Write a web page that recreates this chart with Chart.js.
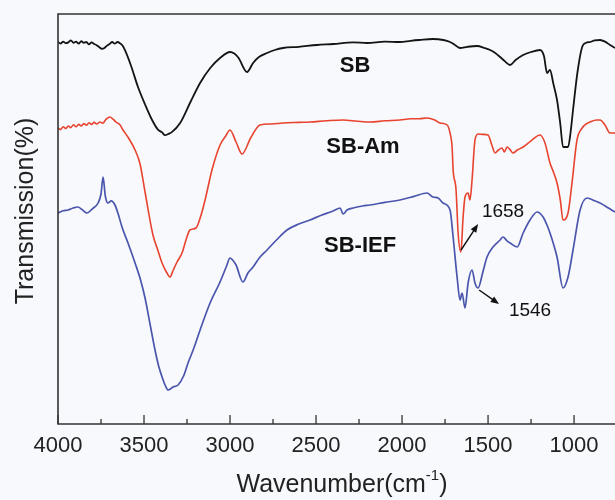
<!DOCTYPE html>
<html>
<head>
<meta charset="utf-8">
<script src="https://cdn.jsdelivr.net/npm/chart.js@4.4.0/dist/chart.umd.min.js"></script>
<style>
  html, body { margin: 0; padding: 0; background: #f8f9fc; }
  #wrap { width: 615px; height: 500px; }
</style>
</head>
<body>
<div id="wrap"><canvas id="chart" width="615" height="500"></canvas></div>
<script>
// wavenumber (cm-1) and transmission (arbitrary, offset spectra)
const sbWn = [4000, 3985, 3970, 3955, 3940, 3925, 3910, 3895, 3880, 3865, 3850, 3835, 3820, 3805, 3790, 3775, 3760, 3745, 3730, 3715,
  3700, 3685, 3670, 3655, 3640, 3625, 3610, 3575, 3535, 3495, 3453, 3419, 3395, 3378, 3355, 3340, 3290, 3230, 3174, 3115, 3058, 3000,
  2975, 2950, 2901, 2866, 2830, 2785, 2740, 2692, 2600, 2494, 2400, 2285, 2203, 2100, 2012, 1950, 1900, 1820, 1760, 1721, 1690, 1663,
  1620, 1564, 1520, 1488, 1460, 1430, 1400, 1372, 1340, 1296, 1250, 1198, 1175, 1157, 1140, 1120, 1099, 1080, 1064, 1035, 1020, 1006,
  980, 953, 930, 907, 880, 849, 820, 791, 762];
const sbT = [95.5, 95.1, 95.6, 95.2, 95.4, 95.9, 95.3, 95.6, 95.1, 95.7, 95.3, 95.5, 94.9, 95.4, 95.0, 94.7, 94.2, 93.8, 94.0, 94.6,
  95.0, 95.5, 95.1, 95.5, 95.2, 94.6, 93.4, 89.5, 84.25, 80.0, 76.0, 73.6, 72.9, 72.2, 72.6, 72.9, 75.25, 80.5, 85.25, 89.0, 91.5, 93.0,
  92.6, 91.5, 88.0, 90.25, 91.8, 92.75, 93.5, 94.0, 94.3, 94.75, 95.0, 95.4, 95.25, 95.6, 95.5, 95.8, 96.0, 96.25, 96.0, 95.5, 94.7, 94.0,
  94.3, 94.5, 94.0, 93.5, 92.8, 91.75, 90.6, 89.75, 91.0, 92.25, 93.0, 93.5, 92.0, 87.75, 88.5, 85.0, 81.0, 75.0, 69.25, 69.25, 73.0, 78.5,
  88.0, 94.25, 95.3, 95.5, 95.9, 96.0, 95.6, 94.75, 94.0];

const amWn = [4000, 3985, 3970, 3955, 3940, 3925, 3910, 3895, 3880, 3865, 3850, 3835, 3820, 3805, 3790, 3775, 3756, 3740, 3720, 3698,
  3680, 3663, 3640, 3622, 3590, 3552, 3523, 3494, 3448, 3420, 3395, 3370, 3349, 3330, 3308, 3279, 3256, 3233, 3198, 3170, 3145, 3105,
  3058, 3025, 3000, 2965, 2930, 2880, 2826, 2760, 2692, 2600, 2535, 2440, 2343, 2260, 2186, 2100, 2012, 1950, 1900, 1855, 1810, 1779,
  1738, 1721, 1709, 1703, 1686, 1674, 1658, 1645, 1634, 1616, 1605, 1593, 1576, 1558, 1530, 1500, 1480, 1459, 1440, 1419, 1405, 1390,
  1372, 1355, 1330, 1296, 1250, 1198, 1169, 1140, 1120, 1099, 1080, 1064, 1035, 1012, 983, 953, 930, 907, 870, 849, 820, 791, 762];
const amT = [74.0, 73.6, 74.3, 73.9, 74.5, 74.1, 74.8, 74.3, 74.9, 74.5, 75.1, 74.7, 75.3, 74.9, 75.4, 75.0, 75.5, 75.2, 76.2, 76.75,
  76.2, 75.5, 74.8, 73.5, 71.5, 68.5, 65.0, 58.0, 47.25, 43.5, 40.25, 38.0, 36.75, 38.5, 40.5, 42.75, 46.0, 48.5, 49.0, 52.0, 56.0, 63.5,
  69.75, 72.0, 73.5, 70.5, 67.5, 71.5, 74.75, 75.0, 75.25, 75.4, 75.5, 75.8, 76.0, 75.7, 75.5, 75.8, 76.0, 76.3, 76.3, 76.5, 76.0, 75.25,
  74.75, 72.75, 69.25, 63.5, 58.5, 47.75, 43.0, 51.75, 56.75, 57.75, 56.0, 61.0, 71.0, 72.5, 72.4, 72.25, 70.0, 67.75, 68.5, 69.0, 68.0, 69.25,
  68.6, 67.75, 68.5, 69.25, 70.8, 72.25, 70.25, 65.25, 63.0, 60.25, 56.0, 51.0, 52.75, 60.25, 71.0, 74.0, 75.0, 75.5, 76.0, 76.0, 74.75, 72.75, 72.75];

const iefWn = [4000, 3970, 3942, 3912, 3884, 3860, 3831, 3800, 3767, 3750, 3738, 3725, 3709, 3690, 3669, 3650, 3628, 3593, 3552, 3520,
  3494, 3465, 3436, 3415, 3395, 3375, 3360, 3331, 3302, 3270, 3244, 3210, 3174, 3116, 3058, 3020, 3000, 2985, 2965, 2925, 2895, 2866,
  2830, 2785, 2730, 2669, 2600, 2535, 2470, 2401, 2360, 2343, 2320, 2285, 2230, 2186, 2100, 2012, 1930, 1855, 1820, 1790, 1762, 1721,
  1703, 1680, 1663, 1651, 1634, 1616, 1593, 1576, 1558, 1530, 1506, 1471, 1430, 1413, 1390, 1372, 1331, 1296, 1256, 1215, 1180, 1160,
  1140, 1099, 1064, 1035, 1006, 965, 924, 880, 849, 800, 762];
const iefT = [52.75, 53.3, 53.5, 54.0, 54.25, 53.6, 52.75, 53.8, 55.25, 57.5, 61.75, 57.0, 55.25, 55.8, 54.75, 52.5, 49.25, 45.25, 40.25, 36.0,
  31.5, 25.0, 18.5, 14.5, 11.75, 9.5, 8.5, 9.25, 9.75, 12.0, 15.25, 19.0, 23.5, 30.25, 35.5, 39.5, 41.5, 41.0, 39.75, 35.5, 37.8, 39.25,
  41.5, 43.5, 46.0, 48.5, 50.0, 51.0, 52.2, 53.25, 54.0, 52.5, 53.5, 54.0, 54.5, 54.75, 55.4, 56.0, 56.9, 57.75, 56.75, 56.5, 55.25, 53.5,
  46.75, 36.75, 31.0, 32.75, 29.0, 35.25, 38.5, 35.25, 34.0, 38.0, 41.75, 44.25, 46.0, 46.75, 45.8, 45.25, 44.25, 47.75, 51.0, 53.0, 51.75, 50.0,
  47.75, 41.75, 34.0, 36.75, 43.5, 53.5, 56.5, 55.8, 55.25, 54.0, 53.0];

const xTicks = [4000, 3500, 3000, 2500, 2000, 1500, 1000];
const xMinorTicks = [3750, 3250, 2750, 2250, 1750, 1250];

// curve labels: [text, wavenumber, transmission at baseline]
const curveLabels = [["SB", 2273, 88], ["SB-Am", 2227, 67.75], ["SB-IEF", 2244, 43]];
// peak notes: [text, label wn, label T, arrow from wn/T, arrow to wn/T]
const peakNotes = [
  ["1658", 1413, 51.75, [1657, 43.5], [1558, 50]],
  ["1546", 1256, 27, [1552, 33.5], [1436, 30]],
];

const FONT = '"Liberation Sans", Arial, sans-serif';

function pts(wn, t) {
  return wn.map((w, i) => ({ x: w, y: t[i] }));
}

function arrow(ctx, x0, y0, x1, y1) {
  const ang = Math.atan2(y1 - y0, x1 - x0);
  const head = 9;
  ctx.beginPath();
  ctx.moveTo(x0, y0);
  ctx.lineTo(x1 - Math.cos(ang) * head * 0.6, y1 - Math.sin(ang) * head * 0.6);
  ctx.stroke();
  ctx.beginPath();
  ctx.moveTo(x1, y1);
  ctx.lineTo(x1 - head * Math.cos(ang - 0.38), y1 - head * Math.sin(ang - 0.38));
  ctx.lineTo(x1 - head * Math.cos(ang + 0.38), y1 - head * Math.sin(ang + 0.38));
  ctx.closePath();
  ctx.fill();
}

const framePlugin = {
  id: "frame",
  afterDatasetsDraw(chart) {
    const { ctx, chartArea: a } = chart;
    const x = chart.scales.x;
    const y = chart.scales.y;
    ctx.save();
    ctx.strokeStyle = "#333";
    ctx.lineWidth = 1.6;
    ctx.beginPath();
    ctx.moveTo(a.right, a.top);
    ctx.lineTo(a.left, a.top);
    ctx.lineTo(a.left, a.bottom);
    ctx.lineTo(a.right, a.bottom);
    ctx.stroke();

    ctx.lineWidth = 1.3;
    for (const t of xTicks) {
      const px = x.getPixelForValue(t);
      ctx.beginPath(); ctx.moveTo(px, a.bottom); ctx.lineTo(px, a.bottom - 9); ctx.stroke();
    }
    for (const t of xMinorTicks) {
      const px = x.getPixelForValue(t);
      ctx.beginPath(); ctx.moveTo(px, a.bottom); ctx.lineTo(px, a.bottom - 5); ctx.stroke();
    }

    ctx.fillStyle = "#222";
    ctx.font = "22px " + FONT;
    ctx.textAlign = "center";
    ctx.textBaseline = "alphabetic";
    for (const t of xTicks) {
      ctx.fillText(String(t), x.getPixelForValue(t), a.bottom + 28);
    }

    // x title with superscript
    ctx.font = "25px " + FONT;
    const main = "Wavenumber(cm";
    const sup = "-1";
    const close = ")";
    const wMain = ctx.measureText(main).width;
    const wClose = ctx.measureText(close).width;
    ctx.font = "15px " + FONT;
    const wSup = ctx.measureText(sup).width;
    let sx = 342 - (wMain + wSup + wClose) / 2;
    ctx.textAlign = "left";
    ctx.font = "25px " + FONT;
    ctx.fillText(main, sx, 492);
    ctx.font = "15px " + FONT;
    ctx.fillText(sup, sx + wMain, 480);
    ctx.font = "25px " + FONT;
    ctx.fillText(close, sx + wMain + wSup, 492);

    // y title
    ctx.save();
    ctx.translate(33, (a.top + a.bottom) / 2 - 8);
    ctx.rotate(-Math.PI / 2);
    ctx.textAlign = "center";
    ctx.font = "25px " + FONT;
    ctx.fillText("Transmission(%)", 0, 0);
    ctx.restore();

    // curve labels
    ctx.textAlign = "center";
    ctx.font = "bold 22px " + FONT;
    ctx.fillStyle = "#111";
    for (const [txt, w, t] of curveLabels) {
      ctx.fillText(txt, x.getPixelForValue(w), y.getPixelForValue(t));
    }

    // peak notes with arrows
    ctx.font = "19px " + FONT;
    ctx.strokeStyle = "#111";
    ctx.lineWidth = 1.4;
    for (const [txt, w, t, from, to] of peakNotes) {
      ctx.fillText(txt, x.getPixelForValue(w), y.getPixelForValue(t));
      arrow(ctx, x.getPixelForValue(from[0]), y.getPixelForValue(from[1]),
        x.getPixelForValue(to[0]), y.getPixelForValue(to[1]));
    }
    ctx.restore();
  },
};

new Chart(document.getElementById("chart"), {
  type: "line",
  data: {
    datasets: [
      { label: "SB", data: pts(sbWn, sbT), borderColor: "#141414", borderWidth: 1.8 },
      { label: "SB-Am", data: pts(amWn, amT), borderColor: "#e8432e", borderWidth: 1.6 },
      { label: "SB-IEF", data: pts(iefWn, iefT), borderColor: "#4a56ad", borderWidth: 1.7 },
    ],
  },
  options: {
    responsive: false,
    animation: false,
    devicePixelRatio: 1,
    layout: { padding: { left: 58, top: 14, right: 0, bottom: 76 } },
    elements: { point: { radius: 0 }, line: { cubicInterpolationMode: "monotone" } },
    plugins: { legend: { display: false }, tooltip: { enabled: false } },
    scales: {
      x: { type: "linear", reverse: true, min: 762, max: 4000, display: false },
      y: { type: "linear", min: 0, max: 102.5, display: false },
    },
  },
  plugins: [framePlugin],
});
</script>
</body>
</html>
